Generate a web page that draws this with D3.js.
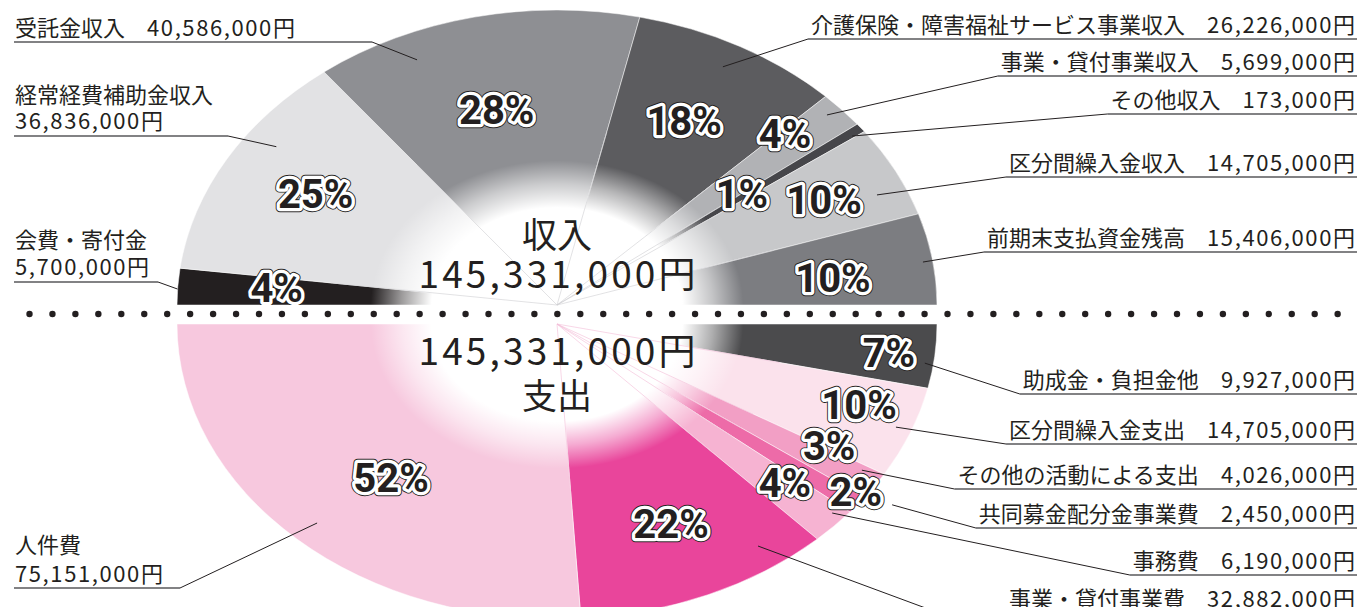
<!DOCTYPE html>
<html lang="ja">
<head>
<meta charset="utf-8">
<title>収入・支出</title>
<script src="https://cdn.jsdelivr.net/npm/d3@7"></script>
<style>
  html,body{margin:0;padding:0;background:#fff;}
  svg{display:block;font-family:"Noto Sans CJK JP","Noto Sans",sans-serif;}
</style>
</head>
<body>
<svg id="chart" width="1359" height="607"></svg>
<script>
// 収入 (top half, drawn left -> right)
const incomeNames   = ['会費・寄付金','経常経費補助金収入','受託金収入','介護保険・障害福祉サービス事業収入','事業・貸付事業収入','その他収入','区分間繰入金収入','前期末支払資金残高'];
const incomeAmounts = ['5,700,000','36,836,000','40,586,000','26,226,000','5,699,000','173,000','14,705,000','15,406,000'];
const incomePct     = [4,25,28,18,4,1,10,10];
const incomeColors  = ['#231f20','#e2e2e4','#8e8f93','#5c5c5f','#b1b2b5','#46464a','#c7c8ca','#7c7d81'];

// 支出 (bottom half, drawn right -> left)
const expenseNames   = ['助成金・負担金他','区分間繰入金支出','その他の活動による支出','共同募金配分金事業費','事務費','事業・貸付事業費','人件費'];
const expenseAmounts = ['9,927,000','14,705,000','4,026,000','2,450,000','6,190,000','32,882,000','75,151,000'];
const expensePct     = [7,10,3,2,4,22,52];
const expenseColors  = ['#4b4b4d','#fbe2ec','#f29fc5','#ed6ba8','#f6b3d2','#e9459b','#f7c8de'];

const totalAmount = '145,331,000';

// label layout: pd/pr = % label angle offset (deg) & radius, ad/ar = leader anchor,
// side L/R, ly = text baselines, uy = underline y, ex = elbow x (left side / override)
const incomeLayout = [
  {pd:0.9, pr:0.74, ad:-0.5, ar:1.0, side:'L', ly:[248,275], uy:282, ex:158},
  {pd:0.9, pr:0.738,ad:6.3, ar:0.913,side:'L', ly:[103,129], uy:136, ex:228},
  {pd:-0.9,pr:0.68, ad:-11.3,ar:0.909,side:'L', ly:[36], uy:42, ex:372},
  {pd:-0.6,pr:0.708,ad:-0.4, ar:0.918,side:'R', ly:[33], uy:39},
  {pd:-2.6,pr:0.834,ad:-0.8, ar:0.959,side:'R', ly:[70], uy:76},
  {pd:-0.8,pr:0.615,ad:0.5,  ar:0.965,side:'R', ly:[108], uy:114},
  {pd:0.1, pr:0.788,ad:3.1,  ar:0.921,side:'R', ly:[171], uy:177},
  {pd:1.8, pr:0.732,ad:0.4,  ar:0.974,side:'R', ly:[246], uy:252}
];
const expenseLayout = [
  {pd:0.1, pr:0.879,ad:1.5, ar:0.977,side:'R', ly:[388], uy:394},
  {pd:-2.5,pr:0.841,ad:-0.2,ar:0.958,side:'R', ly:[438], uy:444},
  {pd:-3.3,pr:0.827,ad:-1.6,ar:0.943,side:'R', ly:[483], uy:489},
  {pd:-1.9,pr:0.971,ad:-3,  ar:1.074,side:'R', ly:[522], uy:528},
  {pd:-1.2,pr:0.807,ad:-1.7,ar:0.967,side:'R', ly:[569], uy:575},
  {pd:-0.5,pr:0.741,ad:-11.7,ar:0.92,side:'R', ly:[607], uy:613, ex:939},
  {pd:-3.3,pr:0.681,ad:-0.1,ar:0.924,side:'L', ly:[553,582], uy:588, ex:180}
];

const W = 1359, H = 607;
const cx = 557, rx = 380, ry = 295;
const topCy = 305, botCy = 324;
const ink = '#231f20';
const deg = Math.PI / 180;

const svg = d3.select('#chart');
const defs = svg.append('defs');

function fadeGradient(id) {
  const gr = defs.append('radialGradient').attr('id', id)
    .attr('gradientUnits', 'userSpaceOnUse').attr('cx', 0).attr('cy', 0).attr('r', 1);
  [[0,1],[0.33,1],[0.41,0.55],[0.49,0]].forEach(([o,a]) =>
    gr.append('stop').attr('offset', o).attr('stop-color', '#fff').attr('stop-opacity', a));
}

function drawHalf(o) {
  const xS = d3.scaleLinear().domain([-1,1]).range([cx-rx, cx+rx]);
  const yS = d3.scaleLinear().domain([-1,1]).range([o.cy-ry, o.cy+ry]);
  const polar = (a, r) => {
    const [x,y] = d3.arc().innerRadius(r).outerRadius(r).centroid({startAngle:a, endAngle:a});
    return [xS(x), yS(y)];
  };
  const arcs = d3.pie().sort(null).value(d => d).startAngle(o.start).endAngle(o.end)(o.pct);
  const arc = d3.arc().innerRadius(0).outerRadius(1);

  const root = svg.append('g');
  root.append('clipPath').attr('id', o.id + '-clip').append('rect')
    .attr('x', 0).attr('y', o.clipY).attr('width', W).attr('height', o.clipH);

  const pg = root.append('g').attr('transform', `translate(${cx},${o.cy}) scale(${rx},${ry})`);
  pg.selectAll('path.slice').data(arcs).join('path').attr('class','slice')
    .attr('d', arc).attr('fill', (d,i) => o.colors[i])
    .attr('stroke', '#fff').attr('stroke-width', 0.5).attr('vector-effect','non-scaling-stroke');

  fadeGradient(o.id + '-fade');
  pg.append('path').attr('d', arc({startAngle:o.start, endAngle:o.end}))
    .attr('fill', `url(#${o.id}-fade)`);

  // faint slice edges through the white centre
  root.selectAll('line.edge').data(arcs.slice(1)).join('line').attr('class','edge')
    .attr('x1', cx).attr('y1', o.cy)
    .attr('x2', d => polar(d.startAngle, 0.6)[0]).attr('y2', d => polar(d.startAngle, 0.6)[1])
    .attr('stroke', o.edge).attr('stroke-width', 0.6);

  // centre title
  const tg = root.append('g').attr('fill', ink).attr('text-anchor', 'middle');
  o.title.forEach(t => {
    const el = tg.append('text').attr('x', cx).attr('y', t.y).attr('font-size', t.size).text(t.text);
    if (t.len) el.attr('textLength', t.len).attr('lengthAdjust', 'spacing');
  });

  // percent labels with white halo + thin dark rim
  const lg = root.append('g').attr('clip-path', `url(#${o.id}-clip)`)
    .attr('font-family', 'Roboto, "Liberation Sans", sans-serif').attr('font-weight', 700)
    .attr('font-size', 40).attr('text-anchor', 'middle');
  const pos = arcs.map((d,i) => polar((d.startAngle + d.endAngle)/2 + o.layout[i].pd*deg, o.layout[i].pr));
  [[ink, 8.4],['#fff', 6.6],[null, 0]].forEach(([stroke, sw]) => {
    lg.append('g').selectAll('text').data(arcs).join('text')
      .attr('x', (d,i) => pos[i][0]).attr('y', (d,i) => pos[i][1] + 14)
      .attr('fill', stroke === '#fff' ? '#fff' : ink)
      .attr('stroke', stroke || 'none').attr('stroke-width', sw).attr('stroke-linejoin', 'round')
      .text((d,i) => o.pct[i] + '%');
  });

  // callout labels
  const cg = root.append('g');
  arcs.forEach((d,i) => {
    const L = o.layout[i];
    const amt = o.amounts[i];
    let startX;
    if (L.side === 'L') {
      const lines = L.ly.length > 1 ? [[o.names[i]], [null, amt]] : [[o.names[i], amt]];
      lines.forEach((ln, k) => {
        const t = cg.append('text').attr('x', 15).attr('y', L.ly[k]).attr('font-size', 22).attr('fill', ink);
        if (ln[0]) t.append('tspan').text(ln[0] + (ln[1] ? '　' : ''));
        if (ln[1]) { t.append('tspan').attr('letter-spacing', 1.6).text(ln[1]); t.append('tspan').text('円'); }
      });
      cg.append('line').attr('x1', 14).attr('x2', L.ex).attr('y1', L.uy).attr('y2', L.uy)
        .attr('stroke', '#58595b').attr('stroke-width', 1.6);
      startX = L.ex;
    } else {
      const t = cg.append('text').attr('x', 1355).attr('y', L.ly[0]).attr('font-size', 22)
        .attr('fill', ink).attr('text-anchor', 'end');
      t.append('tspan').text(o.names[i] + '　');
      t.append('tspan').attr('letter-spacing', 1.6).text(amt);
      t.append('tspan').text('円');
      const bx = t.node().getBBox().x;
      startX = L.ex || bx - 3;
      cg.append('line').attr('x1', startX).attr('x2', 1357).attr('y1', L.uy).attr('y2', L.uy)
        .attr('stroke', '#58595b').attr('stroke-width', 1.6);
    }
    const [ax, ay] = polar((d.startAngle + d.endAngle)/2 + L.ad*deg, L.ar);
    cg.append('line').attr('x1', startX).attr('y1', L.uy).attr('x2', ax).attr('y2', ay)
      .attr('stroke', ink).attr('stroke-width', 1);
  });
}

drawHalf({
  id:'inc', cy:topCy, start:-Math.PI/2, end:Math.PI/2,
  pct:incomePct, names:incomeNames, amounts:incomeAmounts, colors:incomeColors, layout:incomeLayout,
  edge:'#cfcfd1', clipY:0, clipH:topCy,
  title:[{text:'収入', y:248, size:35}, {text:totalAmount + '円', y:288, size:37, len:277}]
});
drawHalf({
  id:'exp', cy:botCy, start:Math.PI/2, end:Math.PI*3/2,
  pct:expensePct, names:expenseNames, amounts:expenseAmounts, colors:expenseColors, layout:expenseLayout,
  edge:'#f4bcd6', clipY:botCy, clipH:H-botCy,
  title:[{text:totalAmount + '円', y:365, size:37, len:277}, {text:'支出', y:409, size:35}]
});

// dotted divider
svg.append('g').selectAll('circle').data(d3.range(58)).join('circle')
  .attr('cx', i => 29.5 + i*22.95).attr('cy', 314).attr('r', 3.2).attr('fill', ink);
</script>
</body>
</html>
